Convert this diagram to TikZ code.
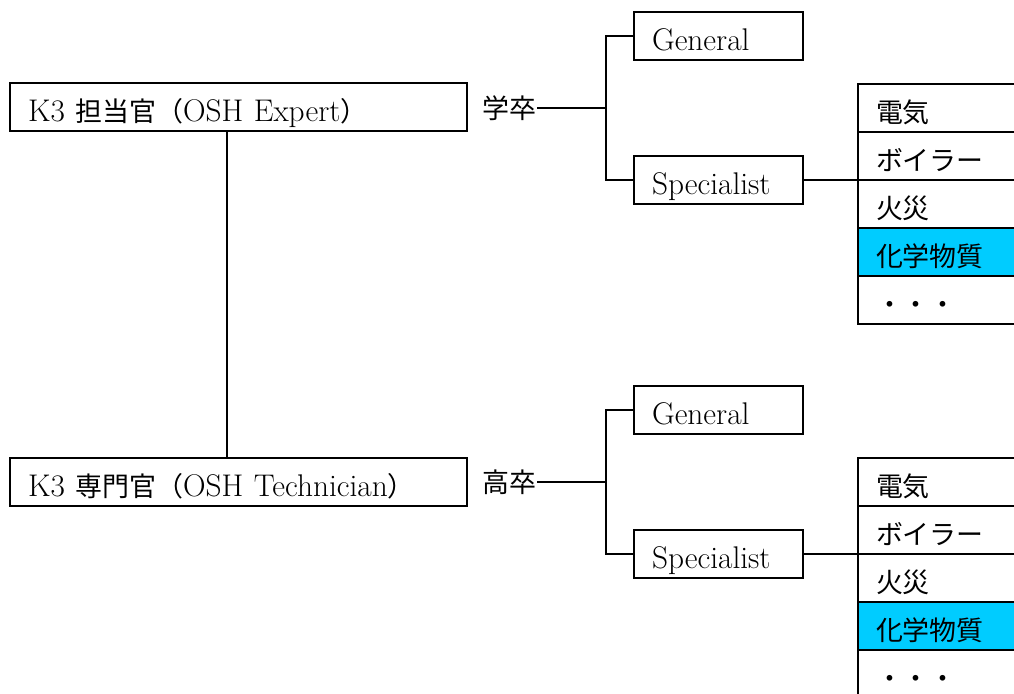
\documentclass[tikz,border=0pt]{standalone}
\usepackage{fontspec}
\newfontfamily\jpfont{Noto Sans CJK JP}[Scale=0.86]
\usetikzlibrary{positioning}
\definecolor{hilite}{RGB}{0,204,255}

\begin{document}
\begin{tikzpicture}[x=0.75pt, y=-0.75pt,
    every node/.style={font=\fontsize{23.5}{28}\selectfont},
    box/.style={draw, line width=1.5pt, inner xsep=13.5pt, inner ysep=0pt, outer sep=0pt,
      align=left, text height=23.5pt, text depth=1.5pt, minimum height=36pt, anchor=north west},
    rolebox/.style={box, text width=315.75pt},
    trackbox/.style={box, text width=99.75pt},
    item/.style={box, text width=123pt},
    lbl/.style={inner sep=0pt, anchor=east},
    conn/.style={line width=1.3pt}]
    \useasboundingbox (0,0) rectangle (1014,693);
    \clip (0,0) rectangle (1014,693);

    % the two posts
    \node [rolebox] (expert) at (10,83) {K3 {\jpfont 担当官（}OSH Expert{\jpfont ）}};
    \node [rolebox] (tech) at (10,458) {K3 {\jpfont 専門官（}OSH Technician{\jpfont ）}};
    \node [lbl] (gaku) at (537,108) {\jpfont 学卒};
    \node [lbl] (kou) at (537,482) {\jpfont 高卒};

    % tracks
    \node [trackbox] (genU) at (634,12) {General};
    \node [trackbox] (speU) at (634,156) {Specialist};
    \node [trackbox] (genL) at (634,386) {General};
    \node [trackbox] (speL) at (634,530) {Specialist};

    % fields
    \foreach \pre/\top in {U/84, L/458} {
      \node [item] (\pre1) at (858,\top) {\jpfont 電気};
      \node [item, below=0pt of \pre1] (\pre2) {\jpfont ボイラー};
      \node [item, below=0pt of \pre2] (\pre3) {\jpfont 火災};
      \node [item, fill=hilite, below=0pt of \pre3] (\pre4) {\jpfont 化学物質};
      \node [item, below=0pt of \pre4] (\pre5) {\jpfont ・・・};
    }

    \coordinate (jU) at (606,108);
    \coordinate (jL) at (606,482);
    \coordinate (vx) at (227,300);

    \draw [conn] (vx |- expert.south) -- (vx |- tech.north);
    \draw [conn] (gaku.east) -- (jU);
    \draw [conn] (genU.west) -| (jU) |- (speU.west);
    \draw [conn] (speU.east) -- (speU.east -| U1.west);
    \draw [conn] (kou.east) -- (jL);
    \draw [conn] (genL.west) -| (jL) |- (speL.west);
    \draw [conn] (speL.east) -- (speL.east -| L1.west);
\end{tikzpicture}
\end{document}
